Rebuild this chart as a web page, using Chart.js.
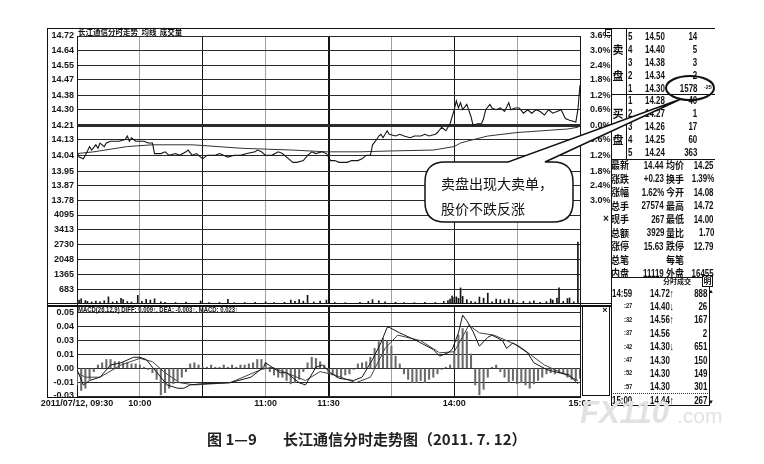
<!DOCTYPE html>
<html>
<head>
<meta charset="utf-8">
<title>长江通信分时走势图</title>
<script src="https://cdn.jsdelivr.net/npm/chart.js@4.4.1/dist/chart.umd.min.js"></script>
<style>
  body { margin: 0; width: 764px; height: 464px; background: #fff; position: relative; overflow: hidden; }
  canvas { position: absolute; }
  .t { position: absolute; white-space: pre; line-height: 1; color: #111; }
  .num { font-family: 'Liberation Sans', Arial, sans-serif; font-weight: bold; }
  .cjk { font-family: 'Noto Sans CJK SC', sans-serif; font-weight: bold; }
  .ln { position: absolute; background: #111; }
  .box { position: absolute; border: 1px solid #111; box-sizing: border-box; background: #fff; }
</style>
</head>
<body>
<canvas id="priceChart" width="612" height="199" style="left:0;top:26px"></canvas>
<canvas id="volumeChart" width="612" height="109" style="left:0;top:205px"></canvas>
<canvas id="macdChart" width="612" height="116" style="left:0;top:295px"></canvas>

<!-- frame -->
<div class="ln" style="left:47px;top:28px;width:668px;height:1px"></div>
<div class="ln" style="left:47px;top:28px;width:1px;height:370px"></div>
<div class="ln" style="left:47px;top:303px;width:564px;height:1px"></div>
<div class="ln" style="left:47px;top:305px;width:564px;height:2px"></div>
<div class="ln" style="left:47px;top:397px;width:31px;height:1px"></div>
<div class="ln" style="left:611px;top:28px;width:1px;height:378px"></div>
<div class="ln" style="left:626px;top:28px;width:1px;height:131px"></div>
<div class="ln" style="left:611px;top:94px;width:104px;height:1px"></div>
<div class="ln" style="left:611px;top:159px;width:104px;height:1px"></div>
<div class="ln" style="left:611px;top:277px;width:102px;height:1px"></div>
<div class="ln" style="left:709px;top:287px;width:1px;height:119px"></div>
<div class="ln" style="left:611px;top:405px;width:99px;height:1px"></div>
<div style="position:absolute;left:613px;top:393px;width:95px;border-top:1px dotted #333"></div>
<div class="box" style="left:582px;top:306px;width:28px;height:90px"></div>
<div class="box" style="left:605px;top:29px;width:7px;height:7px"></div>
<div class="ln" style="left:607px;top:32px;width:3px;height:1px"></div>
<div class="box" style="left:702px;top:275px;width:11px;height:12px"></div>

<svg id="callout" width="764" height="464" style="position:absolute;left:0;top:0">
  <path d="M445,162 L508,162 L681,99 L545,162 L553,162 Q573,162 573,182 L573,202 Q573,222 553,222 L445,222 Q425,222 425,202 L425,182 Q425,162 445,162 Z"
        fill="#fff" stroke="#111" stroke-width="1.5"/>
  <text x="441" y="189" font-family="Noto Sans CJK SC" font-size="14" fill="#111">卖盘出现大卖单，</text>
  <text x="441" y="214" font-family="Noto Sans CJK SC" font-size="14" fill="#111">股价不跌反涨</text>
  <ellipse cx="690" cy="88" rx="24" ry="12" fill="none" stroke="#111" stroke-width="2"/>
</svg>

<div class="t cjk" style="left:207px;top:431px;font-size:15px;color:#222">图 1—9</div>
<div class="t cjk" style="left:283px;top:431px;font-size:15px;color:#222">长江通信分时走势图（2011. 7. 12）</div>

<svg id="mark" width="764" height="464" style="position:absolute;left:0;top:0">
  <text x="580" y="423" font-family="Liberation Sans" font-weight="bold" font-style="italic" font-size="31" fill="#e2e2e2">FX110</text>
  <text x="677" y="423" font-family="Liberation Sans" font-size="21" fill="#e2e2e2">.com</text>
</svg>

<script>
// time axis (minutes after 09:30, lunch break removed)
const timeTickMinutes = [0, 30, 60, 90, 120, 150, 180, 210, 240];
const timeTickLabels = ['2011/07/12, 09:30', '10:00', '', '11:00', '11:30', '', '14:00', '', '15:00'];
const halfHourMinutes = [30, 90, 150, 210];

const priceTickLabels = ['14.72', '14.64', '14.55', '14.47', '14.38', '14.30', '14.21', '14.13', '14.04', '13.95', '13.87', '13.78'];
const pctTickLabels = ['3.6%', '3.0%', '2.4%', '1.8%', '1.2%', '0.6%', '0.0%', '0.6%', '1.2%', '1.8%', '2.4%', '3.0%'];
const prevClose = 14.21;
const volumeTickLabels = ['4095', '3413', '2730', '2048', '1365', '683'];
const macdTickValues = [0.05, 0.0375, 0.025, 0.0125, 0, -0.0125, -0.025];
const macdTickLabels = ['0.05', '0.04', '0.03', '0.01', '0.00', '-0.01', '-0.03'];

// price line
const priceMinutes = [0, 1, 3, 4, 6, 7, 9, 10, 11, 13,
  14, 16, 18, 20, 23, 24, 25, 26, 28, 30,
  32, 34, 36, 37, 40, 42, 44, 47, 49, 52,
  53, 55, 57, 60, 62, 66, 68, 72, 75, 78,
  81, 85, 86, 88, 90, 93, 96, 98, 100, 103,
  105, 108, 110, 112, 114, 117, 119, 121, 123, 125,
  129, 131, 134, 136, 138, 140, 141, 143, 144, 145,
  146, 148, 149, 152, 154, 156, 159, 161, 164, 166,
  168, 171, 172, 174, 176, 178, 180, 181, 182, 183,
  184, 186, 188, 189, 191, 193, 194, 195, 197, 198,
  200, 202, 204, 206, 207, 209, 211, 213, 215, 217,
  219, 221, 223, 225, 227, 229, 231, 233, 235, 238,
  239, 240];
const priceValues = [14.06, 14.03, 14.02, 14.04, 14.09, 14.07, 14.10, 14.08, 14.11, 14.09,
  14.11, 14.12, 14.12, 14.12, 14.13, 14.15, 14.12, 14.14, 14.12, 14.12,
  14.12, 14.11, 14.11, 14.05, 14.05, 14.06, 14.04, 14.05, 14.04, 14.06,
  14.07, 14.04, 14.05, 14.02, 14.04, 14.04, 14.05, 14.03, 14.04, 14.04,
  14.05, 14.06, 14.07, 14.06, 14.04, 14.04, 14.06, 14.05, 14.03, 14.00,
  14.00, 14.01, 14.04, 14.06, 14.05, 14.06, 14.05, 14.01, 14.01, 14.00,
  14.00, 14.01, 14.01, 14.02, 14.04, 14.04, 14.10, 14.13, 14.15, 14.16,
  14.14, 14.18, 14.16, 14.15, 14.16, 14.15, 14.14, 14.15, 14.15, 14.16,
  14.15, 14.16, 14.17, 14.20, 14.18, 14.22, 14.30, 14.35, 14.31, 14.34,
  14.30, 14.33, 14.26, 14.21, 14.22, 14.22, 14.25, 14.30, 14.33, 14.31,
  14.30, 14.31, 14.29, 14.34, 14.30, 14.31, 14.31, 14.28, 14.30, 14.28,
  14.30, 14.29, 14.27, 14.30, 14.28, 14.29, 14.30, 14.25, 14.24, 14.23,
  14.30, 14.44];

// average price line
const avgMinutes = [0, 8, 24, 36, 55, 79, 103, 119, 135, 150, 170, 180, 183, 186, 196, 210, 234, 239, 240];
const avgValues = [14.05, 14.06, 14.09, 14.10, 14.10, 14.08, 14.07, 14.06, 14.06, 14.065, 14.07, 14.09, 14.11, 14.12, 14.15, 14.17, 14.19, 14.20, 14.21];

// volume bars
const volumeMinutes = [0, 1, 2, 4, 5, 7, 9, 11, 13, 15,
  17, 19, 21, 22, 24, 26, 29, 31, 33, 35,
  37, 40, 42, 47, 52, 59, 63, 68, 72, 75,
  80, 85, 90, 94, 99, 102, 104, 106, 108, 110,
  113, 116, 119, 123, 128, 135, 139, 141, 144, 147,
  152, 156, 161, 166, 171, 175, 177, 178, 179, 180,
  181, 182, 183, 184, 186, 188, 190, 192, 194, 196,
  198, 200, 202, 204, 206, 208, 210, 213, 216, 218,
  221, 224, 226, 227, 229, 230, 232, 234, 235, 237,
  239];
const volumeValues = [300, 180, 240, 160, 120, 90, 140, 100, 150, 330,
  90, 120, 260, 200, 110, 90, 400, 120, 220, 180,
  240, 100, 80, 70, 90, 140, 60, 70, 220, 60,
  70, 80, 100, 60, 80, 180, 120, 200, 130, 400,
  90, 140, 180, 70, 60, 80, 120, 200, 150, 100,
  80, 70, 60, 80, 70, 120, 160, 230, 370, 300,
  330, 260, 740, 350, 200, 120, 90, 320, 270, 500,
  100, 230, 200, 150, 230, 180, 70, 120, 100, 150,
  80, 110, 230, 180, 270, 740, 120, 250, 280, 100,
  2850];

// MACD
const diffMinutes = [0, 3, 6, 11, 16, 21, 27, 30, 33, 36,
  40, 43, 48, 51, 54, 59, 73, 83, 89, 90,
  97, 100, 106, 109, 114, 117, 121, 125, 132, 136,
  141, 145, 148, 149, 154, 162, 170, 173, 177, 179,
  182, 184, 186, 189, 192, 196, 198, 203, 205, 208,
  215, 218, 224, 230, 235, 239];
const diffValues = [-0.001, -0.015, -0.011, -0.008, 0.003, 0.005, 0.010, 0.010, 0.008, 0.001,
  -0.008, -0.015, -0.018, -0.018, -0.015, -0.014, -0.013, -0.008, 0.001, 0.005,
  -0.004, -0.004, -0.013, -0.015, 0.001, 0.003, -0.004, -0.009, -0.011, -0.008,
  0.008, 0.023, 0.037, 0.037, 0.032, 0.025, 0.017, 0.011, 0.014, 0.017,
  0.032, 0.048, 0.043, 0.033, 0.020, 0.028, 0.030, 0.025, 0.018, 0.023,
  0.014, 0.005, -0.001, -0.004, -0.006, -0.014];
const deaMinutes = [0, 4, 11, 21, 30, 36, 42, 49, 56, 73,
  88, 93, 101, 109, 116, 123, 133, 140, 147, 153,
  164, 173, 180, 187, 192, 199, 211, 223, 230, 239];
const deaValues = [-0.004, -0.008, -0.008, 0.003, 0.009, 0.006, -0.004, -0.013, -0.015, -0.013,
  -0.001, 0.001, -0.005, -0.011, -0.003, -0.006, -0.013, -0.008, 0.018, 0.030,
  0.025, 0.014, 0.015, 0.039, 0.032, 0.030, 0.020, 0.003, -0.003, -0.011];
// one bar every two minutes
const macdBarValues = [
  -0.015, -0.020, -0.018, -0.010, -0.003, 0.003, 0.005, 0.008, 0.008, 0.006,
  0.006, 0.005, 0.005, 0.004, 0.004, 0.003, 0.001, -0.001, -0.004, -0.010,
  -0.024, -0.022, -0.018, -0.014, -0.011, -0.008, -0.003, 0.004, 0.005, 0.003,
  0.001, 0.001, 0.003, 0.001, 0.001, 0.003, 0.001, 0.003, 0.001, 0.003,
  0.003, 0.004, 0.005, 0.008, 0.008, 0.005, -0.003, -0.006, -0.008, -0.008,
  -0.011, -0.014, -0.013, -0.010, -0.003, 0.005, 0.010, 0.009, 0.006, 0.003,
  -0.004, -0.006, -0.008, -0.008, -0.006, -0.005, -0.001, 0.004, 0.005, 0.006,
  0.010, 0.018, 0.024, 0.027, 0.025, 0.020, 0.011, 0.004, -0.005, -0.010,
  -0.013, -0.013, -0.011, -0.013, -0.010, -0.008, -0.005, -0.001, 0.001, 0.003,
  0.015, 0.030, 0.036, 0.033, 0.013, -0.015, -0.024, -0.019, -0.008, 0.001,
  0.003, -0.003, -0.008, -0.013, -0.011, -0.014, -0.013, -0.015, -0.018, -0.014,
  -0.011, -0.008, -0.005, -0.004, -0.005, -0.004, -0.005, -0.008, -0.010, -0.011,
  -0.009];
const macdBarMinutes = macdBarValues.map((_, i) => i * 2);

// quote panel
const sellLevels = ['5', '4', '3', '2', '1'];
const sellPrices = ['14.50', '14.40', '14.38', '14.34', '14.30'];
const sellVolumes = ['14', '5', '3', '2', '1578'];
const buyLevels = ['1', '2', '3', '4', '5'];
const buyPrices = ['14.28', '14.27', '14.26', '14.25', '14.24'];
const buyVolumes = ['40', '1', '17', '60', '363'];
const quoteLabelsA = ['最新', '涨跌', '涨幅', '总手', '现手', '总额', '涨停', '总笔', '内盘'];
const quoteValuesA = ['14.44', '+0.23', '1.62%', '27574', '267', '3929', '15.63', '', '11119'];
const quoteLabelsB = ['均价', '换手', '今开', '最高', '最低', '量比', '跌停', '每笔', '外盘'];
const quoteValuesB = ['14.25', '1.39%', '14.08', '14.72', '14.00', '1.70', '12.79', '', '16455'];
const tradeTimes = ['14:59', ':27', ':32', ':37', ':42', ':47', ':52', ':57', '15:00'];
const tradePrices = ['14.72↑', '14.40↓', '14.56↑', '14.56', '14.30↓', '14.30', '14.30', '14.30', '14.44↑'];
const tradeVolumes = ['888', '26', '167', '2', '651', '150', '149', '301', '267'];

const pts = (xs, ys) => xs.map((x, i) => ({x: x, y: ys[i]}));

const numFont = {family: "'Liberation Sans', Arial, sans-serif", size: 9, weight: 'bold'};
const ink = '#151515';

function timeScale(withLabels) {
    return {
        type: 'linear', min: 0, max: 240, offset: false,
        afterBuildTicks: s => { s.ticks = timeTickMinutes.map(v => ({value: v})); },
        grid: {
            offset: false, drawTicks: false,
            color: c => halfHourMinutes.includes(c.tick.value) ? '#a0a0a0' : ink,
            lineWidth: c => c.tick.value === 120 ? 2 : 1
        },
        border: {display: withLabels, color: ink},
        ticks: {
            display: withLabels, autoSkip: false, maxRotation: 0, padding: 1,
            font: numFont, color: ink,
            callback: (v, i) => timeTickLabels[i]
        },
        afterFit: s => { s.height = withLabels ? 14 : 0; }
    };
}

function leftScale(min, max, values, labels, widthFn) {
    return {
        type: 'linear', position: 'left', min: min, max: max,
        afterBuildTicks: s => { s.ticks = values.map(v => ({value: v})); },
        afterFit: s => { s.width = 77; },
        grid: {drawTicks: false, color: '#2a2a2a', lineWidth: widthFn || 1},
        border: {color: ink},
        ticks: {padding: 3, font: numFont, color: ink, callback: (v, i) => labels[i]}
    };
}

function rightScale(min, max, values, labels) {
    return {
        type: 'linear', position: 'right', min: min, max: max,
        afterBuildTicks: s => { s.ticks = values.map(v => ({value: v})); },
        afterFit: s => { s.width = 32; },
        grid: {display: false},
        border: {color: ink},
        ticks: {display: !!labels, padding: 2, font: numFont, color: ink,
            callback: (v, i) => labels ? labels[i] : ''}
    };
}

function baseOptions(scales, padBottom) {
    return {
        responsive: false, animation: false, events: [],
        layout: {padding: {top: 10, bottom: padBottom, left: 0, right: 0}},
        plugins: {legend: {display: false}, tooltip: {enabled: false}},
        scales: scales
    };
}

const priceTicks = priceTickLabels.map(Number);

new Chart(document.getElementById('priceChart'), {
    type: 'line',
    data: {
        datasets: [
            {data: pts(priceMinutes, priceValues), borderColor: ink, borderWidth: 1.1, pointRadius: 0},
            {data: pts(avgMinutes, avgValues), borderColor: '#333', borderWidth: 1, pointRadius: 0}
        ]
    },
    options: baseOptions({
        x: timeScale(false),
        y: leftScale(13.70, 14.72, priceTicks, priceTickLabels, c => c.tick.value === prevClose ? 3 : 1),
        y2: rightScale(13.70, 14.72, priceTicks, pctTickLabels)
    }, 10)
});

new Chart(document.getElementById('volumeChart'), {
    type: 'bar',
    data: {
        datasets: [{data: pts(volumeMinutes, volumeValues), backgroundColor: ink, barThickness: 1}]
    },
    options: baseOptions({
        x: timeScale(false),
        y: leftScale(0, 4095, volumeTickLabels.map(Number), volumeTickLabels),
        y2: rightScale(0, 4095, [], null)
    }, 10)
});

new Chart(document.getElementById('macdChart'), {
    type: 'bar',
    data: {
        datasets: [
            {type: 'line', data: pts(diffMinutes, diffValues), borderColor: ink, borderWidth: 1, pointRadius: 0, order: 0},
            {type: 'line', data: pts(deaMinutes, deaValues), borderColor: '#444', borderWidth: 1, pointRadius: 0, order: 0},
            {data: pts(macdBarMinutes, macdBarValues), backgroundColor: '#6a6a6a', barThickness: 1.4, order: 1}
        ]
    },
    options: baseOptions({
        x: timeScale(true),
        y: leftScale(-0.0259, 0.0572, macdTickValues, macdTickLabels),
        y2: rightScale(-0.0259, 0.0572, [], null)
    }, 0)
});

// texts, narrowed to the condensed face of the original
function put(text, x, y, cls, size, align, sx) {
    const el = document.createElement('div');
    const s = sx || (cls === 'num' ? 0.72 : 1);
    el.className = 't ' + cls;
    el.textContent = text;
    el.style.fontSize = size + 'px';
    el.style.top = (y - size / 2) + 'px';
    if (align === 'right') {
        el.style.right = (764 - x) + 'px';
        el.style.transformOrigin = 'right center';
        el.style.transform = 'scaleX(' + s + ')';
    } else if (align === 'center') {
        el.style.left = x + 'px';
        el.style.transformOrigin = 'center center';
        el.style.transform = 'translateX(-50%) scaleX(' + s + ')';
    } else {
        el.style.left = x + 'px';
        el.style.transformOrigin = 'left center';
        el.style.transform = 'scaleX(' + s + ')';
    }
    document.body.insertBefore(el, document.getElementById('callout'));
}

put('长江通信分时走势  均线  成交量', 78, 31.5, 'cjk', 7.5);
put('MACD(26,12,9) DIFF: 0.009↑, DEA: -0.003↑, MACD: 0.023↑', 78, 309, 'num', 7, 'left', 0.85);
put('×', 606, 219, 'num', 10, 'center', 1);
put('×', 605, 310, 'num', 9, 'center', 1);

put('卖', 618, 49, 'cjk', 11, 'center');
put('盘', 618, 75, 'cjk', 11, 'center');
put('买', 618, 113, 'cjk', 11, 'center');
put('盘', 618, 139, 'cjk', 11, 'center');
sellLevels.forEach((lv, i) => {
    const y = 36 + i * 13;
    put(lv, 628, y, 'num', 11);
    put(sellPrices[i], 645, y, 'num', 11);
    put(sellVolumes[i], 697, y, 'num', 11, 'right');
});
put('-25', 704, 87, 'num', 6, 'left', 0.9);
buyLevels.forEach((lv, i) => {
    const y = 100 + i * 13.2;
    put(lv, 628, y, 'num', 11);
    put(buyPrices[i], 645, y, 'num', 11);
    put(buyVolumes[i], 697, y, 'num', 11, 'right');
});
quoteLabelsA.forEach((lab, i) => {
    const y = 165 + i * 13.5;
    put(lab, 611, y, 'cjk', 10, 'left', 0.9);
    put(quoteValuesA[i], 664, y, 'num', 11, 'right');
    put(quoteLabelsB[i], 666, y, 'cjk', 10, 'left', 0.9);
    put(quoteValuesB[i], 714, y, 'num', 11, 'right');
});
put('分时成交', 677, 281, 'cjk', 7, 'center');
put('明', 707.5, 281, 'cjk', 8, 'center');
tradeTimes.forEach((tm, i) => {
    const y = 293 + i * 13.4;
    const full = i === 0 || i === 8;
    put(tm, full ? 612 : 624, y, 'num', full ? 11 : 8);
    put(tradePrices[i], 650, y, 'num', 11);
    put(tradeVolumes[i], 707, y, 'num', 11, 'right');
});
put('▲', 711, 291, 'num', 6, 'center', 1);
put('▼', 711, 402, 'num', 6, 'center', 1);
</script>
</body>
</html>
